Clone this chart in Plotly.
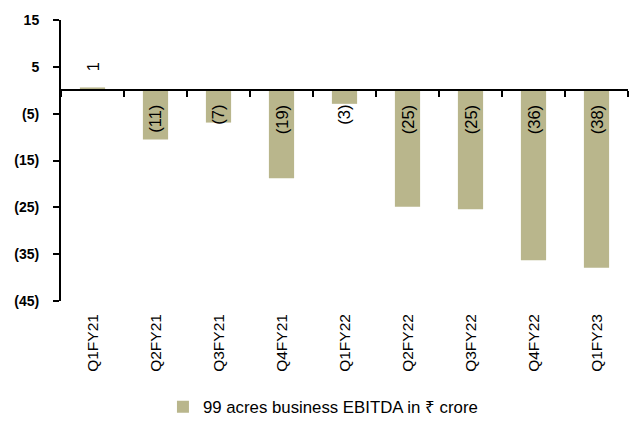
import plotly.graph_objects as go

quarters = ["Q1FY21", "Q2FY21", "Q3FY21", "Q4FY21", "Q1FY22",
            "Q2FY22", "Q3FY22", "Q4FY22", "Q1FY23"]
ebitda = [0.6, -10.5, -6.9, -18.8, -2.9, -24.9, -25.4, -36.3, -37.9]
bar_labels = ["1", "(11)", "(7)", "(19)", "(3)", "(25)", "(25)", "(36)", "(38)"]

y_ticks = [15, 5, -5, -15, -25, -35, -45]
y_ticktext = ["15", "5", "(5)", "(15)", "(25)", "(35)", "(45)"]

FONT = "Liberation Sans, Arial, sans-serif"
BAR_COLOR = "#B9B68C"

fig = go.Figure()
fig.add_trace(go.Bar(
    x=quarters, y=ebitda,
    name="99 acres business EBITDA in ₹ crore",
    marker=dict(color=BAR_COLOR, line=dict(width=0)),
    width=0.4,
))
# invisible trace so the zero-line axis gets drawn
fig.add_trace(go.Scatter(
    x=quarters, y=ebitda, xaxis="x2", mode="markers",
    marker=dict(opacity=0), showlegend=False, hoverinfo="skip",
))

for q, v, lab in zip(quarters, ebitda, bar_labels):
    fig.add_annotation(
        x=q, y=0, text=lab, textangle=-90, showarrow=False,
        yanchor="bottom" if v > 0 else "top",
        yshift=17 if v > 0 else -13,
        font=dict(family=FONT, size=16.5, color="black"),
    )

fig.update_layout(
    width=635, height=421,
    margin=dict(l=61, r=7, t=20, b=120, autoexpand=False),
    plot_bgcolor="white", paper_bgcolor="white",
    font=dict(family=FONT, size=16, color="black"),
    showlegend=True,
    legend=dict(orientation="h", x=0.462, xanchor="center", y=-0.377, yanchor="middle",
                font=dict(size=16.8), itemwidth=30),
    xaxis=dict(type="category", showline=False, ticks="", showgrid=False,
               tickangle=-90, range=[-0.5, 8.5], automargin=False,
               tickfont=dict(size=15.5), ticklabelstandoff=9),
    xaxis2=dict(type="category", overlaying="x", anchor="free", position=0.75,
                range=[-0.5, 8.5], showline=True, linecolor="black", linewidth=2,
                ticks="outside", tickson="boundaries", ticklen=6, tickwidth=2,
                tickcolor="black", showticklabels=False, showgrid=False),
    yaxis=dict(range=[-45, 15], tickvals=y_ticks, ticktext=y_ticktext,
               showline=True, linecolor="black", linewidth=2, ticks="outside",
               ticklen=6, tickwidth=2, tickcolor="black", showgrid=False,
               zeroline=False, automargin=False, ticklabelstandoff=11,
               tickfont=dict(size=14, weight="bold")),
)

fig.write_html("out.html", config={"displayModeBar": False},
               post_script="document.body.style.margin='0';")
